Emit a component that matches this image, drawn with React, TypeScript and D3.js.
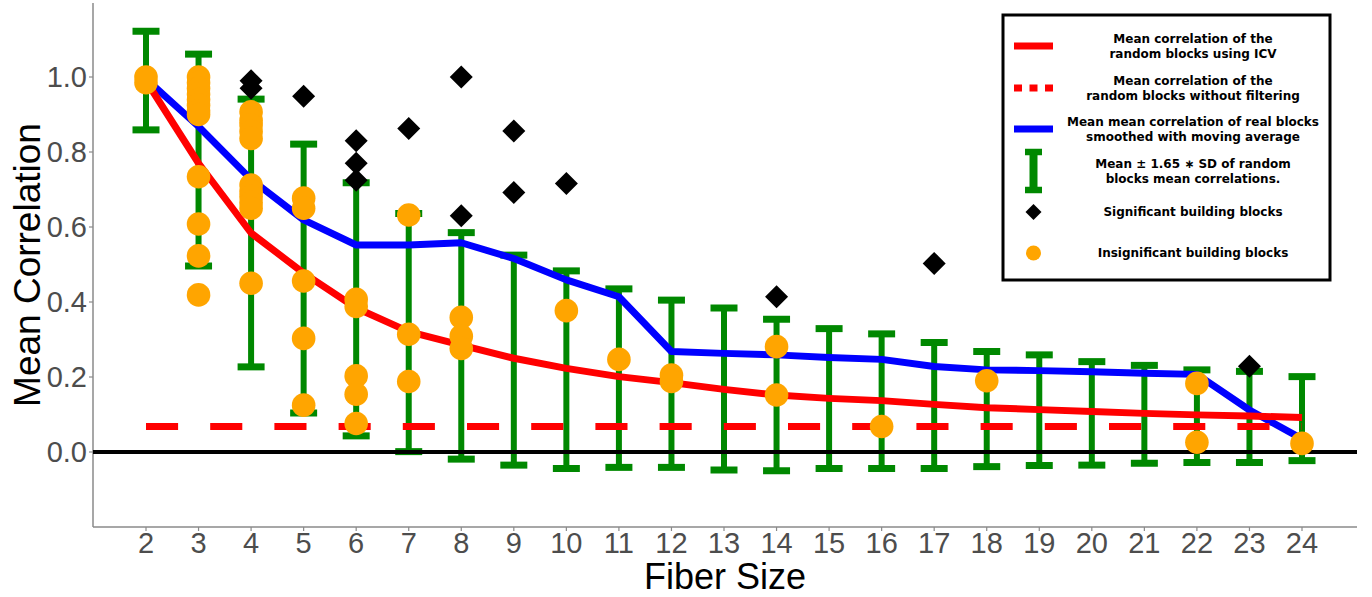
import React from "react";
import * as d3 from "d3";

const fiberSizes = [2, 3, 4, 5, 6, 7, 8, 9, 10, 11, 12, 13, 14, 15, 16, 17, 18, 19, 20, 21, 22, 23, 24];
const errUpper = [1.122, 1.061, 0.941, 0.821, 0.718, 0.636, 0.585, 0.525, 0.483, 0.435, 0.405, 0.384, 0.354, 0.329, 0.315, 0.292, 0.268, 0.259, 0.241, 0.231, 0.219, 0.215, 0.201];
const errLower = [0.859, 0.496, 0.227, 0.104, 0.043, 0.001, -0.019, -0.035, -0.044, -0.041, -0.041, -0.048, -0.05, -0.044, -0.044, -0.044, -0.039, -0.036, -0.035, -0.03, -0.028, -0.028, -0.023];
const icvMean = [0.99, 0.77, 0.584, 0.477, 0.384, 0.321, 0.285, 0.25, 0.223, 0.201, 0.185, 0.167, 0.152, 0.143, 0.137, 0.127, 0.118, 0.113, 0.108, 0.103, 0.099, 0.096, 0.092];
const realMeanSmoothed = [0.995, 0.868, 0.727, 0.619, 0.552, 0.552, 0.558, 0.516, 0.459, 0.414, 0.268, 0.263, 0.259, 0.252, 0.247, 0.228, 0.219, 0.217, 0.214, 0.21, 0.207, 0.112, 0.035];
const noFilterMean = 0.068;

const sigX = [4, 4, 5, 6, 6, 6, 7, 8, 8, 9, 9, 10, 14, 17, 23];
const sigY = [0.99, 0.97, 0.949, 0.83, 0.77, 0.725, 0.863, 1.0, 0.63, 0.856, 0.692, 0.716, 0.414, 0.503, 0.229];

const insigX = [2, 2, 3, 3, 3, 3, 3, 3, 3, 3, 3, 3, 3, 3, 4, 4, 4, 4, 4, 4, 4, 4, 4, 4, 4, 5, 5, 5, 5, 5, 6, 6, 6, 6, 6, 7, 7, 7, 8, 8, 8, 10, 11, 12, 12, 14, 14, 16, 18, 22, 22, 24];
const insigY = [1.0, 0.985, 1.0, 0.985, 0.97, 0.955, 0.94, 0.925, 0.91, 0.9, 0.734, 0.608, 0.523, 0.419, 0.907, 0.885, 0.872, 0.855, 0.836, 0.712, 0.695, 0.681, 0.665, 0.65, 0.45, 0.677, 0.65, 0.456, 0.303, 0.125, 0.407, 0.388, 0.203, 0.154, 0.076, 0.632, 0.314, 0.188, 0.359, 0.309, 0.276, 0.377, 0.247, 0.205, 0.188, 0.281, 0.152, 0.068, 0.19, 0.183, 0.026, 0.023];

const yTicks = [0, 0.2, 0.4, 0.6, 0.8, 1.0];

const legendItems = [
  { kind: "solid", lines: ["Mean correlation of the", "random blocks using ICV"] },
  { kind: "dotted", lines: ["Mean correlation of the", "random blocks without filtering"] },
  { kind: "blue", lines: ["Mean mean correlation of real blocks", "smoothed with moving average"] },
  { kind: "errbar", lines: ["Mean \u00b1 1.65 \u2217 SD of random", "blocks mean correlations."] },
  { kind: "diamond", lines: ["Significant building blocks"] },
  { kind: "circle", lines: ["Insignificant building blocks"] },
];

const GREEN = "#008800";
const ORANGE = "#FFA500";

export default function App() {
  const W = 1372, H = 597;
  const panel = { left: 93, right: 1357, top: 3, bottom: 527 };
  const x = d3.scaleLinear().domain([2, 24]).range([146, 1302]);
  const y = d3.scaleLinear().domain([0, 1]).range([452, 77]);

  const line = d3
    .line<[number, number]>()
    .x((d) => x(d[0]))
    .y((d) => y(d[1]));

  const redPts: [number, number][] = fiberSizes.map((f, i) => [f, icvMean[i]]);
  const bluePts: [number, number][] = fiberSizes.map((f, i) => [f, realMeanSmoothed[i]]);
  const capW = 27;
  const diamond = (cx: number, cy: number, r: number) =>
    `M${cx},${cy - r}L${cx + r},${cy}L${cx},${cy + r}L${cx - r},${cy}Z`;

  const tickFont = "'Liberation Sans', Arial, Helvetica, sans-serif";
  const legFont = "'DejaVu Sans', sans-serif";

  // legend layout
  const legBox = { x: 1003, y: 15, w: 327, h: 265 };
  const legRowY = [46, 88, 129, 171, 212, 253];
  const legTextX = 1193;

  return (
    <svg width={W} height={H} style={{ position: "absolute", left: 0, top: 0, background: "#fff" }}>
      <rect x={0} y={0} width={W} height={H} fill="#fff" />
      {/* axes */}
      <line x1={panel.left} y1={panel.top} x2={panel.left} y2={panel.bottom} stroke="#8a8a8a" strokeWidth={1.5} />
      <line x1={panel.left} y1={panel.bottom} x2={panel.right} y2={panel.bottom} stroke="#8a8a8a" strokeWidth={1.5} />
      {yTicks.map((t) => (
        <g key={"yt" + t}>
          <line x1={panel.left - 4} x2={panel.left} y1={y(t)} y2={y(t)} stroke="#8a8a8a" strokeWidth={1.2} />
          <text x={panel.left - 6} y={y(t)} dy="0.36em" textAnchor="end" fontSize={29} fill="#4d4d4d" fontFamily={tickFont}>
            {t.toFixed(1)}
          </text>
        </g>
      ))}
      {fiberSizes.map((f) => (
        <g key={"xt" + f}>
          <line x1={x(f)} x2={x(f)} y1={panel.bottom} y2={panel.bottom + 4} stroke="#8a8a8a" strokeWidth={1.2} />
          <text x={x(f)} y={553} textAnchor="middle" fontSize={29} fill="#4d4d4d" fontFamily={tickFont}>
            {f}
          </text>
        </g>
      ))}
      <text x={(panel.left + panel.right) / 2} y={589} textAnchor="middle" fontSize={36} fill="#000" fontFamily={tickFont}>
        Fiber Size
      </text>
      <text
        transform={`translate(40,${(panel.top + panel.bottom) / 2}) rotate(-90)`}
        textAnchor="middle"
        fontSize={37}
        fill="#000"
        fontFamily={tickFont}
      >
        Mean Correlation
      </text>

      {/* error bars */}
      {fiberSizes.map((f, i) => (
        <g key={"eb" + f} stroke={GREEN}>
          <line x1={x(f)} x2={x(f)} y1={y(errUpper[i])} y2={y(errLower[i])} strokeWidth={6} />
          <line x1={x(f) - capW / 2} x2={x(f) + capW / 2} y1={y(errUpper[i])} y2={y(errUpper[i])} strokeWidth={7} />
          <line x1={x(f) - capW / 2} x2={x(f) + capW / 2} y1={y(errLower[i])} y2={y(errLower[i])} strokeWidth={7} />
        </g>
      ))}

      {/* lines */}
      <path d={line(bluePts) || ""} fill="none" stroke="#0000ff" strokeWidth={7} strokeLinejoin="round" />
      <path d={line(redPts) || ""} fill="none" stroke="#ff0000" strokeWidth={7} strokeLinejoin="round" />
      <line
        x1={x(fiberSizes[0])}
        x2={x(fiberSizes[fiberSizes.length - 1])}
        y1={y(noFilterMean)}
        y2={y(noFilterMean)}
        stroke="#ff0000"
        strokeWidth={7}
        strokeDasharray="32.1,32.1"
      />
      {/* zero line */}
      <line x1={panel.left} x2={panel.right} y1={y(0)} y2={y(0)} stroke="#000" strokeWidth={4} />

      {/* points */}
      {insigX.map((f, i) => (
        <circle key={"c" + i} cx={x(f)} cy={y(insigY[i])} r={11.8} fill={ORANGE} />
      ))}
      {sigX.map((f, i) => (
        <path key={"d" + i} d={diamond(x(f), y(sigY[i]), 11.5)} fill="#000" />
      ))}

      {/* legend */}
      <rect x={legBox.x} y={legBox.y} width={legBox.w} height={legBox.h} fill="#fff" stroke="#000" strokeWidth={3} />
      {legendItems.map((it, i) => {
        const cy = legRowY[i];
        const kx = 1033.5;
        let key: React.ReactNode = null;
        if (it.kind === "solid") key = <line x1={1014} x2={1053} y1={cy} y2={cy} stroke="#ff0000" strokeWidth={7} />;
        if (it.kind === "dotted")
          key = <line x1={1014} x2={1053} y1={cy} y2={cy} stroke="#ff0000" strokeWidth={7} strokeDasharray="8,7.5" />;
        if (it.kind === "blue") key = <line x1={1014} x2={1053} y1={cy} y2={cy} stroke="#0000ff" strokeWidth={7} />;
        if (it.kind === "errbar")
          key = (
            <g stroke={GREEN}>
              <line x1={kx} x2={kx} y1={cy - 19} y2={cy + 19} strokeWidth={8} />
              <line x1={kx - 8.5} x2={kx + 8.5} y1={cy - 19} y2={cy - 19} strokeWidth={6.5} />
              <line x1={kx - 8.5} x2={kx + 8.5} y1={cy + 19} y2={cy + 19} strokeWidth={6.5} />
            </g>
          );
        if (it.kind === "diamond") key = <path d={diamond(kx, cy, 8)} fill="#000" />;
        if (it.kind === "circle") key = <circle cx={kx} cy={cy} r={7.5} fill={ORANGE} />;
        const n = it.lines.length;
        return (
          <g key={"lg" + i}>
            {key}
            {it.lines.map((t, j) => (
              <text
                key={j}
                x={legTextX}
                y={cy + (j - (n - 1) / 2) * 15}
                dy="0.36em"
                textAnchor="middle"
                fontSize={12}
                fontWeight="bold"
                fill="#000"
                fontFamily={legFont}
              >
                {t}
              </text>
            ))}
          </g>
        );
      })}
    </svg>
  );
}
